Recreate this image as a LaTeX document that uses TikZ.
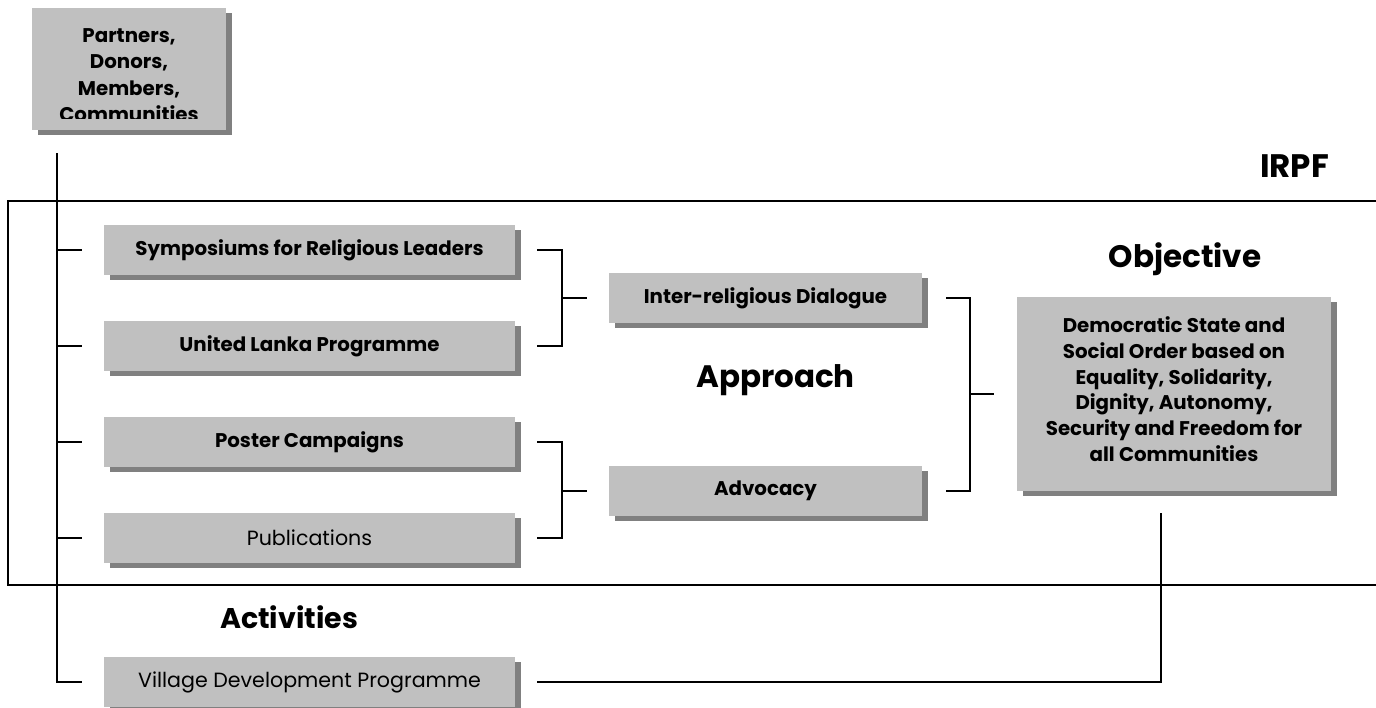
\documentclass[tikz,border=0pt]{standalone}
\usepackage{fontspec}
\setmainfont{Poppins}
\usetikzlibrary{shadows}
\definecolor{boxfill}{HTML}{C0C0C0}
\definecolor{boxshade}{HTML}{808080}
\newcommand{\boldtxt}{\fontsize{19.8}{25.7}\selectfont\bfseries}
\newcommand{\toptxt}{\fontsize{19.8}{26.5}\selectfont\bfseries}
\newcommand{\regtxt}{\fontsize{20.6}{24}\selectfont}
\newcommand{\lbltxt}{\fontsize{31}{36}\selectfont\bfseries}
\tikzset{
  shbox/.style={fill=boxfill, draw=none, inner sep=0pt, align=center,
    general shadow={fill=boxshade, shadow xshift=6pt, shadow yshift=-5pt}},
  actbox/.style={shbox, minimum width=411pt, minimum height=50pt, font=\boldtxt},
  apbox/.style={shbox, minimum width=313pt, minimum height=50pt, font=\boldtxt},
  conn/.style={line width=1.8pt, black},
  frameline/.style={line width=2pt, black},
  lbl/.style={font=\lbltxt, inner sep=0pt}
}
\begin{document}
\begin{tikzpicture}[x=1pt,y=-1pt]
\useasboundingbox (0,0) rectangle (1376,707);
% top box (text clipped at the bottom)
\node[shbox, minimum width=194pt, minimum height=122pt] (pdm) at (129,69) {};
\begin{scope}
  \clip (32,8) rectangle (226,118);
  \node[font=\toptxt, align=center, inner sep=0pt] (pdmtxt) at (129,75) {Partners,\\Donors,\\Members,\\Communities};
\end{scope}
% frame
\draw[frameline] (1380,201) -- (8,201) -- (8,585) -- (1380,585);
% activities
\node[actbox] (sym) at (309.5,250) {Symposiums for Religious Leaders};
\node[actbox] (ulp) at (309.5,346) {United Lanka Programme};
\node[actbox] (pos) at (309.5,442) {Poster Campaigns};
\node[actbox, font=\regtxt] (pub) at (309.5,538) {Publications};
\node[actbox, font=\regtxt] (vdp) at (309.5,682) {Village Development Programme};
% approach
\node[apbox] (ird) at (765.5,298) {Inter-religious Dialogue};
\node[apbox] (adv) at (765.5,491) {Advocacy};
% objective
\node[shbox, minimum width=314pt, minimum height=194pt] (obj) at (1174,394) {};
\node[font=\boldtxt, align=center, inner sep=0pt] (objtxt) at (1174,389) {Democratic State and\\Social Order based on\\Equality, Solidarity,\\Dignity, Autonomy,\\Security and Freedom for\\all Communities};
% labels
\node[lbl, font=\fontsize{32.5}{36}\selectfont\bfseries, anchor=base] (irpf) at (1294.5,177) {IRPF};
\node[lbl, anchor=base] (objlbl) at (1185,267) {Objective};
\node[lbl, anchor=base] (appr) at (775.5,387) {Approach};
\node[lbl, font=\fontsize{28.5}{34}\selectfont\bfseries, anchor=base] (actl) at (289,628) {Activities};
% trunk
\coordinate (trunktop) at (57,153);
\draw[conn] (trunktop) -- (trunktop |- vdp.west) -- ([xshift=-22pt]vdp.west);
\foreach \n in {sym,ulp,pos,pub}{
  \draw[conn] (trunktop |- \n.west) -- ([xshift=-22pt]\n.west);
}
% brackets to approach
\draw[conn] ([xshift=22pt]sym.east) -- ++(25,0) |- ([xshift=22pt]ulp.east);
\draw[conn] ([xshift=-22pt]ird.west) -- ++(-25,0);
\draw[conn] ([xshift=22pt]pos.east) -- ++(25,0) |- ([xshift=22pt]pub.east);
\draw[conn] ([xshift=-22pt]adv.west) -- ++(-25,0);
% bracket to objective
\draw[conn] ([xshift=24pt]ird.east) -- ++(24,0) |- ([xshift=24pt]adv.east);
\draw[conn] ([xshift=-23pt]obj.west) -- ++(-24,0);
% village line
\draw[conn] ([xshift=22pt]vdp.east) -| ([xshift=-13pt,yshift=-22pt]obj.south);
\end{tikzpicture}
\end{document}
